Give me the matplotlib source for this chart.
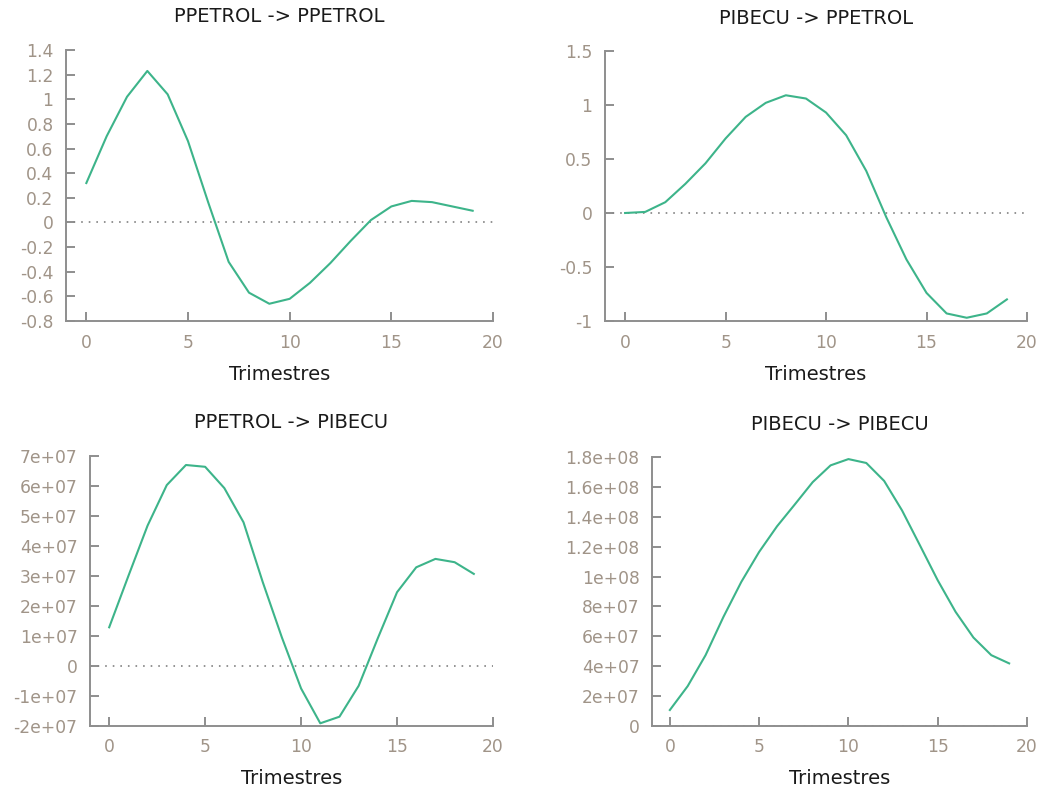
import matplotlib
matplotlib.use("Agg")
import matplotlib.pyplot as plt
from matplotlib.ticker import FuncFormatter, MultipleLocator

quarters = list(range(20))

ppetrol_ppetrol = [0.32, 0.70, 1.02, 1.23, 1.04, 0.66, 0.16, -0.32, -0.57, -0.66,
                   -0.62, -0.49, -0.33, -0.15, 0.02, 0.13, 0.175, 0.165, 0.13, 0.095]
pibecu_ppetrol = [0.0, 0.01, 0.10, 0.27, 0.46, 0.69, 0.89, 1.02, 1.09, 1.06,
                  0.93, 0.72, 0.39, -0.04, -0.43, -0.74, -0.93, -0.97, -0.93, -0.80]
ppetrol_pibecu = [1.29e7, 3.0e7, 4.68e7, 6.03e7, 6.7e7, 6.64e7, 5.93e7, 4.79e7, 2.8e7, 0.95e7,
                  -0.75e7, -1.91e7, -1.69e7, -0.66e7, 0.93e7, 2.46e7, 3.29e7, 3.57e7, 3.46e7, 3.07e7]
pibecu_pibecu = [1.07e7, 2.67e7, 4.74e7, 7.3e7, 9.64e7, 1.165e8, 1.336e8, 1.483e8, 1.632e8, 1.744e8,
                 1.786e8, 1.76e8, 1.64e8, 1.443e8, 1.21e8, 9.75e7, 7.64e7, 5.92e7, 4.74e7, 4.19e7]

titles = ["PPETROL -> PPETROL", "PIBECU -> PPETROL", "PPETROL -> PIBECU", "PIBECU -> PIBECU"]
series = [ppetrol_ppetrol, pibecu_ppetrol, ppetrol_pibecu, pibecu_pibecu]
ylims = [(-0.8, 1.4), (-1.0, 1.5), (-2e7, 7e7), (0, 1.8e8)]
ysteps = [0.2, 0.5, 1e7, 2e7]
xlabel = "Trimestres"

W, H = 1051, 791
# axes boxes in pixels: left, right, top, bottom
boxes = [(66, 493, 50, 321), (605, 1027, 51, 321), (90, 493, 456, 726), (652, 1027, 457, 726)]

LINE = "#3db48a"
SPINE = "#8e8e8e"
TICKC = "#a09488"
TEXTC = "#1a1a1a"

plt.rcParams['font.family'] = ['DejaVu Sans']
fig = plt.figure(figsize=(W / 100, H / 100), dpi=100)
fig.patch.set_facecolor("white")

fmt = FuncFormatter(lambda v, p: "%g" % (round(v, 10)))

for i in range(4):
    l, r, t, b = boxes[i]
    ax = fig.add_axes([l / W, 1 - b / H, (r - l) / W, (b - t) / H])
    ax.plot(quarters, series[i], color=LINE, lw=1.5, zorder=3)
    ax.axhline(0, color="#8a8a8a", lw=1.3, ls=(0, (0.9, 3.3)), zorder=2)
    ax.set_xlim(-1, 20)
    ax.set_ylim(*ylims[i])
    ax.xaxis.set_major_locator(MultipleLocator(5))
    ax.yaxis.set_major_locator(MultipleLocator(ysteps[i]))
    ax.yaxis.set_major_formatter(fmt)
    for s in ["top", "right"]:
        ax.spines[s].set_visible(False)
    for s in ["left", "bottom"]:
        ax.spines[s].set_color(SPINE)
        ax.spines[s].set_linewidth(1.4)
    ax.tick_params(axis="both", direction="in", length=6.5, width=1.4, color=SPINE,
                   labelcolor=TICKC, labelsize=12.3)
    ax.tick_params(axis="x", pad=9)
    ax.tick_params(axis="y", pad=9)
    hpx = b - t
    ax.text(0.5, 1 + 33 / hpx, titles[i], transform=ax.transAxes, ha="center", va="center",
            fontsize=14, color=TEXTC)
    ax.text(0.5, -53 / hpx, xlabel, transform=ax.transAxes, ha="center", va="center",
            fontsize=14, color=TEXTC)

fig.savefig("out.png", dpi=100, facecolor="white")
